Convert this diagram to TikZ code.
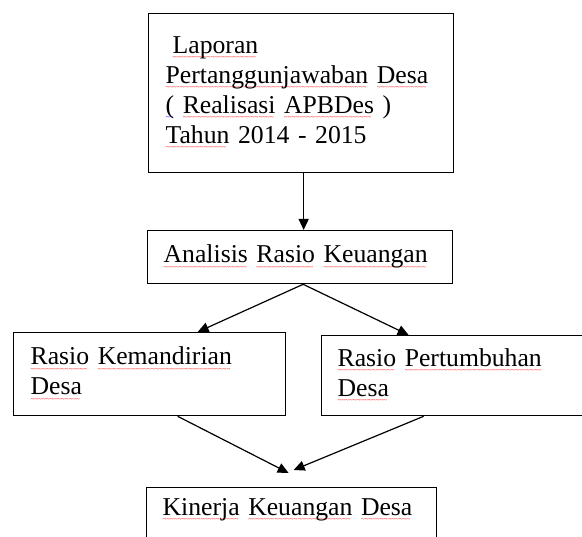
\documentclass[tikz,border=0pt]{standalone}
\usepackage{fontspec}
\setmainfont{Liberation Serif}
\usetikzlibrary{arrows.meta}
% wavy spell-check marks under words
\newcommand\sqmark[2]{\leavevmode\setbox0\hbox{#2}\rlap{\raisebox{-6.5pt}{\color{#1}\fontsize{7}{7}\selectfont\leaders\hbox{\char"7E}\hskip\wd0}}\box0\relax}
\newcommand\sq[1]{\sqmark{red}{#1}}
\newcommand\sqb[1]{\sqmark{blue}{#1}}

\begin{document}
\begin{tikzpicture}[x=1pt, y=-1pt,
		box/.style={draw, line width=1.3pt, anchor=north west, align=left, inner ysep=0pt,
			font=\fontsize{25.7}{30}\selectfont},
		panah/.style={-{Triangle[length=11pt,width=10pt]}, line width=1.2pt}]
		\useasboundingbox (0,0) rectangle (582,537);
		\clip (0,0) rectangle (582,537);
		
		% Laporan (top)
		\node[box, text width=271pt, inner xsep=17pt, minimum height=159pt] (lpj) at (148,13)
		{\hspace*{7pt}\sq{Laporan}\\
			\sq{Pertanggunjawaban} \sq{Desa}\\
			\sqb{(} \sq{Realisasi} \sq{APBDes} )\\
			\sq{Tahun} 2014 - 2015};
		
		% Analisis
		\node[box, text width=273pt, inner xsep=16pt, minimum height=53pt] (analisis) at (147,230)
		{\sq{Analisis} \sq{Rasio} \sq{Keuangan}};
		
		% two ratios
		\node[box, text width=238pt, inner xsep=17pt, minimum height=83pt] (kemandirian) at (13,332)
		{\sq{Rasio} \sq{Kemandirian}\\ \sq{Desa}};
		\node[box, text width=250pt, inner xsep=16pt, minimum height=80pt] (pertumbuhan) at (321,335)
		{\sq{Rasio} \sq{Pertumbuhan}\\ \sq{Desa}};
		
		% Kinerja (bottom, runs off the page)
		\node[box, text width=258pt, inner xsep=16pt, minimum height=70pt, text depth=31.5pt] (kinerja) at (146,487)
		{\sq{Kinerja} \sq{Keuangan} \sq{Desa}};
		
		% arrows
		\draw[panah] ([xshift=2.5pt]lpj.south) -- ([xshift=3.5pt]analisis.north);
		\draw[panah] ([xshift=3pt]analisis.south) -- ([xshift=48pt]kemandirian.north);
		\draw[panah] ([xshift=3pt]analisis.south) -- ([xshift=-54pt]pertumbuhan.north);
		\draw[panah] ([xshift=28pt]kemandirian.south) -- ([xshift=-3pt, yshift=14pt]kinerja.north);
		\draw[panah] ([xshift=-39pt]pertumbuhan.south) -- ([xshift=2pt, yshift=17pt]kinerja.north);
	\end{tikzpicture}
\end{document}
